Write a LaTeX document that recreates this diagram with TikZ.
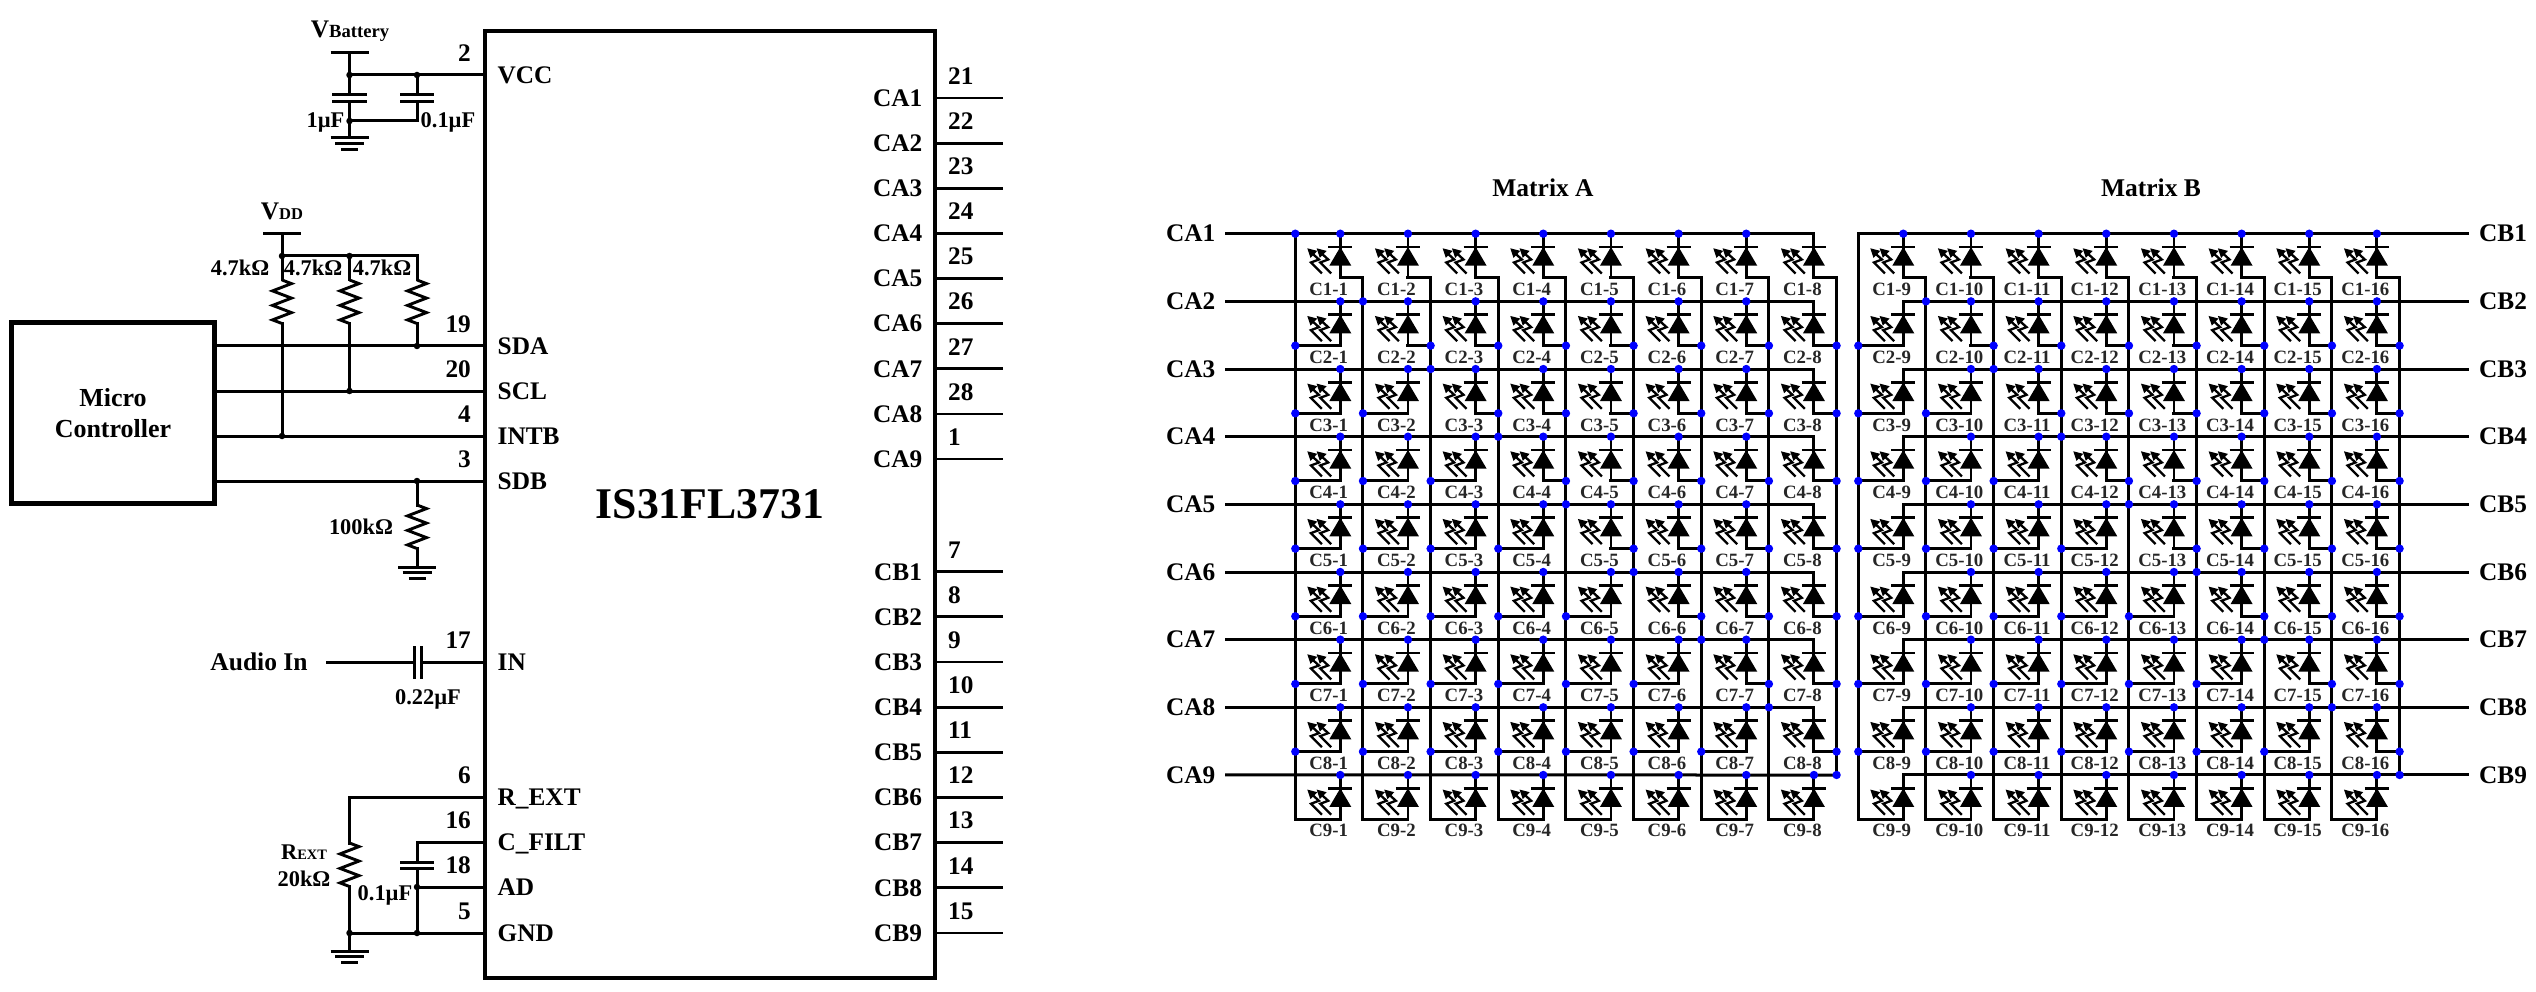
\documentclass[tikz,border=0pt]{standalone}
\usepackage{fontspec}
\setmainfont{Liberation Serif}
\newcommand{\fs}[1]{\fontsize{#1}{#1}\selectfont\bfseries}
\tikzset{
  x=1pt,y=-1pt,
  wire/.style={line width=3pt,line cap=rect,line join=miter},
  thin wire/.style={line width=2.8pt,line cap=rect},
  plate/.style={line width=3pt},
  jdot/.style={circle,fill=black,inner sep=0pt,minimum size=6.5pt},
  bdot/.style={circle,fill=blue,inner sep=0pt,minimum size=8.4pt},
  pinl/.style={font=\fs{25.3},inner sep=0pt,anchor=base west},
  pinr/.style={font=\fs{25.3},inner sep=0pt,anchor=base east},
  val/.style={font=\fs{22.4},inner sep=0pt,anchor=base},
  celllabel/.style={font=\fs{18.8},inner sep=0pt,anchor=base,text=black!85},
  chip/.style={draw,line width=4.4pt,inner sep=0pt},
  resistor/.pic={\draw[line width=2.9pt,line join=miter]
     (0,0)--(9.5,3.6)--(-9.5,10.9)--(9.5,18.1)--(-9.5,25.4)--(9.5,32.6)--(-9.5,39.9)--(0,43.5);},
  gnd/.pic={\draw[plate] (-19,0)--(19,0) (-14.5,5.7)--(14.5,5.7) (-8.5,11.3)--(8.5,11.3);},
  lightning/.pic={
     \draw[line width=2.3pt,line join=miter] (14.6,25.2)--(3.6,14.2)--(11.6,11.2)--(2.6,3);
     \fill (0,0)--(10,2.6)--(3.2,9.6)--cycle;},
  led/.pic={
     \draw[line width=2.9pt] (0,0)--(0,44.3);
     \draw[line width=2.9pt] (-12,13.3)--(12,13.3);
     \fill (0,13.3)--(-11,32)--(11,32)--cycle;
     \path (-33,14.6) pic {lightning};
     \path (-23.7,14.6) pic {lightning};},
}
\begin{document}
\begin{tikzpicture}
\path[use as bounding box] (0,0) rectangle (2536,992);
% ---------- chip and controller
\node[chip,minimum width=450pt,minimum height=947pt,font=\fs{43.8}] (ic) at (710,504.5) {IS31FL3731};
\node[chip,minimum width=203pt,minimum height=181pt,font=\fs{26},align=center] (mcu) at (113,413) {Micro\\[5pt]Controller};
% ---------- left pins
\foreach \n/\y/\t/\num in {vcc/75/VCC/2,sda/346/SDA/19,scl/391/SCL/20,intb/436/INTB/4,sdb/481/SDB/3,in/662/IN/17,rext/797/R\_EXT/6,cfilt/842/C\_FILT/16,ad/887/AD/18,gndp/933/GND/5}{
  \coordinate (\n) at (485,\y);
  \node[pinl] (t-\n) at (497.5,\y+8.3) {\t};
  \node[pinr] (n-\n) at (471,\y-13.7) {\num};
}
% ---------- right pins
\foreach \i/\t/\num [evaluate=\i as \y using 98+45.13*(\i-1)] in {1/CA1/21,2/CA2/22,3/CA3/23,4/CA4/24,5/CA5/25,6/CA6/26,7/CA7/27,8/CA8/28,9/CA9/1}{
  \coordinate (pr\i) at (935,\y);
  \coordinate (pe\i) at (1003,\y);
  \draw[thin wire,line cap=butt] (pr\i)--(pe\i);
  \node[pinl] (t-pr\i) at (873,\y+8.3) {\t};
  \node[pinl] (n-pr\i) at (948,\y-13.7) {\num};
}
\foreach \i/\t/\num [evaluate=\i as \y using 571.7+45.15*(\i-1)] in {1/CB1/7,2/CB2/8,3/CB3/9,4/CB4/10,5/CB5/11,6/CB6/12,7/CB7/13,8/CB8/14,9/CB9/15}{
  \coordinate (qr\i) at (935,\y);
  \coordinate (qe\i) at (1003,\y);
  \draw[thin wire,line cap=butt] (qr\i)--(qe\i);
  \node[pinl] (t-qr\i) at (874,\y+8.3) {\t};
  \node[pinl] (n-qr\i) at (948,\y-13.7) {\num};
}
% ---------- VBattery
\node[inner sep=0pt,anchor=base] (vbat) at (350,38) {\fs{25.3}V\fs{18.6}Battery};
\coordinate (vbtop) at (349.5,53);
\coordinate (vbj) at (349.5,75);
\coordinate (cj) at (417,75);
\coordinate (gj) at (349.5,121);
\coordinate (gb) at (349.5,138);
\draw[plate] (330.5,53)--(368.5,53);
\draw[wire] (vbtop)--(vbj)--(349.5,94.6) (349.5,101.4)--(gj)--(gb);
\draw[wire] (vbj)--(vcc);
\draw[wire] (cj)--(417,94.6) (417,101.4)--(417,121)--(gj);
\draw[plate] (332,94.6)--(367,94.6) (332,101.4)--(367,101.4) (400,94.6)--(434,94.6) (400,101.4)--(434,101.4);
\path (gb) pic {gnd};
\node[val] (l1u) at (325.5,128) {1µF};
\node[val] (l01u) at (448,128) {0.1µF};
\node[jdot] at (vbj) {}; \node[jdot] at (cj) {}; \node[jdot] at (gj) {};
% ---------- VDD and pull-ups
\node[inner sep=0pt,anchor=base] (vdd) at (282,220) {\fs{25.3}V\fs{16.5}DD};
\coordinate (vdtop) at (282,233.6);
\coordinate (vdj) at (282,256);
\coordinate (vdm) at (349.5,256);
\coordinate (vdr) at (417,256);
\draw[plate] (263,233.6)--(301,233.6);
\draw[wire] (vdtop)--(vdj)--(vdm)--(vdr);
\foreach \c/\s in {vdj/intb,vdm/scl,vdr/sda}{
  \draw[wire] (\c)--(\c|-0,280);
  \path (\c|-0,280) pic {resistor};
  \draw[wire] (\c|-0,323.5)--(\c|-\s);
  \node[jdot] at (\c|-\s) {};
}
\node[jdot] at (vdj) {}; \node[jdot] at (vdm) {};
\node[val] (r1) at (240,276) {4.7kΩ};
\node[val] (r2) at (313,276) {4.7kΩ};
\node[val] (r3) at (382,276) {4.7kΩ};
% ---------- MCU wires
\foreach \s in {sda,scl,intb,sdb}{\draw[wire,line cap=butt] (mcu.east|-\s)--(\s);}
% ---------- 100k
\coordinate (sj) at (417,481);
\draw[wire] (sj)--(417,505);
\path (417,505) pic {resistor};
\draw[wire] (417,548.5)--(417,567);
\path (417,567) pic {gnd};
\node[jdot] at (sj) {};
\node[val] (r100) at (361,534) {100kΩ};
% ---------- Audio in
\node[inner sep=0pt,font=\fs{25.5}] (audio) at (259,662) {Audio In};
\coordinate (as) at (326,662);
\draw[wire,line cap=butt] (as)--(414,662) (421,662)--(in);
\draw[plate] (414,646)--(414,679) (421,646)--(421,679);
\node[val] (l022) at (428,704) {0.22µF};
% ---------- bottom group
\coordinate (rc) at (349.5,797);
\coordinate (gg) at (349.5,933);
\coordinate (cc) at (417,842);
\coordinate (cg) at (417,933);
\coordinate (cad) at (417,887);
\draw[wire] (rext)--(rc)--(349.5,843);
\path (349.5,843) pic {resistor};
\draw[wire] (349.5,886.5)--(gg)--(349.5,951);
\path (349.5,951) pic {gnd};
\draw[wire] (gndp)--(gg);
\draw[wire] (cfilt)--(cc)--(417,862);
\draw[wire] (417,868.5)--(cg);
\draw[plate] (400,862)--(434,862) (400,868.5)--(434,868.5);
\draw[wire] (ad)--(cad);
\node[jdot] at (gg) {}; \node[jdot] at (cg) {}; \node[jdot] at (cad) {};
\node[inner sep=0pt,anchor=base] (lrx) at (304,859) {\fs{22.4}R\fs{14.4}EXT};
\node[val] (l20k) at (304,886) {20kΩ};
\node[val] (l01b) at (385,900) {0.1µF};
% ---------- matrix titles
\node[font=\fs{25.5},inner sep=0pt] (ma) at (1543,188) {Matrix A};
\node[font=\fs{25.5},inner sep=0pt] (mb) at (2151,188) {Matrix B};
% ---------- matrix side labels
\foreach \r [evaluate=\r as \y using 233.7+67.66*(\r-1)] in {1,...,9}{
  \node[pinl] (ca\r) at (1166,\y+8.3) {CA\r};
  \node[pinl] (cb\r) at (2479,\y+8.3) {CB\r};
  \coordinate (ca\r w) at (1226.7,\y);
  \coordinate (cb\r e) at (2467.7,\y);
}
% ---------- matrix wiring
\foreach \m/\X/\off in {A/1340.3/0,B/1903.3/8}{
  \foreach \r in {1,...,9}{
    \pgfmathsetmacro\y{233.7+67.66*(\r-1)}
    \pgfmathsetmacro\yb{\y+44.3}
    \foreach \c in {1,...,8}{
      \pgfmathsetmacro\x{\X+67.66*(\c-1)}
      \pgfmathtruncatemacro\num{\c+\off}
      \pgfmathsetmacro\xv{\c<\r ? \x-45 : \x+22.66}
      \coordinate (\m-\r-\c) at (\x,\y);
      \coordinate (\m-\r-\c-b) at (\x,\yb);
      \coordinate (\m-\r-\c-v) at (\xv,\yb);
      \path (\m-\r-\c) pic {led};
      \draw[wire] (\m-\r-\c-b)--(\m-\r-\c-v);
      \node[celllabel] (lab-\m-\r-\c) at (\x-11.6,\y+62) {C\r-\num};
    }
  }
  \foreach \j in {0,...,8}{
    \pgfmathsetmacro\x{\X-45+67.66*\j}
    \pgfmathsetmacro\ytop{\j==0 ? 233.7 : 278}
    \pgfmathsetmacro\ybot{\j==8 ? 775 : 819.3}
    \coordinate (\m-v\j-t) at (\x,\ytop);
    \coordinate (\m-v\j-b) at (\x,\ybot);
    \draw[wire] (\m-v\j-t)--(\m-v\j-b);
  }
}
% rows of matrix A
\foreach \r in {1,...,8}{\draw[wire] (ca\r w)--(A-\r-8);}
\draw[wire] (ca9w)--(A-v8-b);
% rows of matrix B
\draw[wire] (B-v0-t)--(cb1e);
\foreach \r in {2,...,9}{\draw[wire] (B-\r-1)--(cb\r e);}
% ---------- blue dots
\node[bdot] at (A-v0-t) {};
\foreach \r in {2,...,9}{
  \pgfmathtruncatemacro\jj{\r-1}
  \node[bdot] at (A-v\jj-t|-A-\r-1) {};
  \node[bdot] at (B-v\jj-t|-B-\r-1) {};
}
\foreach \r in {1,...,9}{
  \foreach \c in {1,...,8}{
    \pgfmathtruncatemacro\adot{(\c<8)||(\r==9)}
    \pgfmathtruncatemacro\bd{(\c>1)||(\r==1)}
    \ifnum\adot=1 \node[bdot] at (A-\r-\c) {};\fi
    \ifnum\bd=1 \node[bdot] at (B-\r-\c) {};\fi
    \ifnum\r>1 \ifnum\r<9
      \node[bdot] at (A-\r-\c-v) {};
      \node[bdot] at (B-\r-\c-v) {};
    \fi\fi
  }
}
\end{tikzpicture}
\end{document}
